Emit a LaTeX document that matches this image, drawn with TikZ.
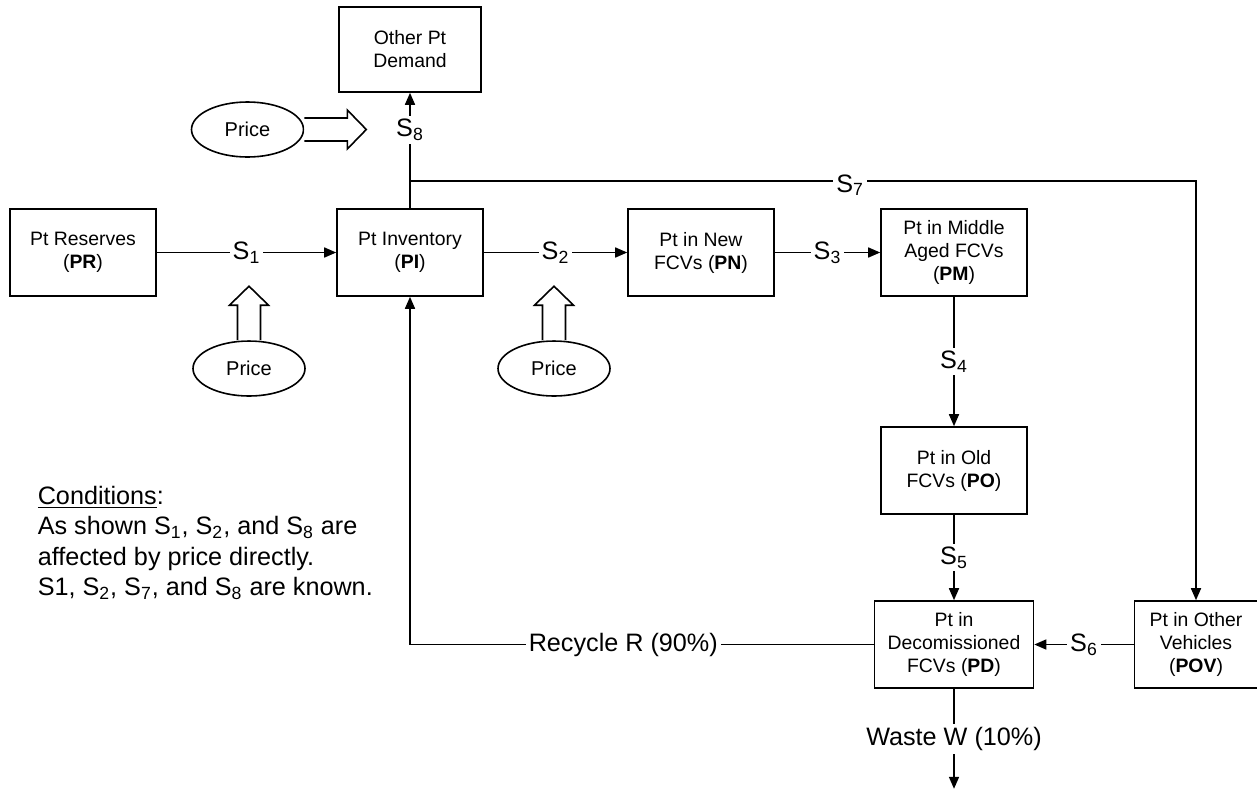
\documentclass[tikz,border=0pt]{standalone}
\usepackage{fontspec}
\setmainfont{Liberation Sans}
\usepackage{tikz}
\usetikzlibrary{shapes.geometric, arrows.meta, positioning, calc}

\begin{document}
\begin{tikzpicture}[
  x=0.5pt, y=-0.5pt, line width=0.8pt,
  >={Triangle[length=6pt, width=5pt]},
  box/.style={rectangle, draw, minimum width=73pt, minimum height=43.5pt, align=center, inner sep=1pt, font=\fontsize{9.7}{11.5}\selectfont},
  lbl/.style={fill=white, inner sep=1.5pt, font=\fontsize{12.6}{15.3}\selectfont},
  price/.style={ellipse, draw, minimum width=56pt, minimum height=27.5pt, inner sep=0pt, font=\fontsize{10}{12}\selectfont},
  fatarrow/.pic={\draw[fill=white] (0,-5.75pt) -- ({#1pt-9.5pt},-5.75pt) -- ({#1pt-9.5pt},-9.75pt) -- (#1pt,0) -- ({#1pt-9.5pt},9.75pt) -- ({#1pt-9.5pt},5.75pt) -- (0,5.75pt);}
]
  \useasboundingbox (0,0) rectangle (1257,788);

  % stocks
  \node[box] (PR) at (83,252.5) {Pt Reserves\\(\textbf{PR})};
  \node[box, right=89.7pt of PR] (PI) {Pt Inventory\\(\textbf{PI})};
  \node[box, right=71.7pt of PI] (PN) {Pt in New\\FCVs (\textbf{PN})};
  \node[box, right=52.7pt of PN] (PM) {Pt in Middle\\Aged FCVs\\(\textbf{PM})};
  \node[box, below=64.7pt of PM] (PO) {Pt in Old\\FCVs (\textbf{PO})};
  \node[box, below=42.7pt of PO, minimum width=79.5pt] (PD) {Pt in\\Decomissioned\\FCVs (\textbf{PD})};
  \node[box, right=49.7pt of PD, minimum width=61.5pt] (POV) {Pt in Other\\Vehicles\\(\textbf{POV})};
  \node[box, above=57.7pt of PI, minimum width=71pt, minimum height=42.5pt] (OD) {Other Pt\\Demand};

  % price drivers
  \node[price] (P8) at (247.5,129.5) {Price};
  \node[price] (P1) at (249,368.5) {Price};
  \node[price] (P2) at (554,368.5) {Price};
  \pic at (P8.east) {fatarrow=31};
  \pic[rotate=90] at (P1.north) {fatarrow=27};
  \pic[rotate=90] at (P2.north) {fatarrow=27};

  % flows
  \coordinate[above=13.5pt of PI.north] (br);
  \coordinate[below=50pt of PD.south] (wend);
  \draw[->] (PR) -- node[lbl]{S\textsubscript{1}} (PI);
  \draw[->] (PI) -- node[lbl]{S\textsubscript{2}} (PN);
  \draw[->] (PN) -- node[lbl]{S\textsubscript{3}} (PM);
  \draw[->] (PM) -- node[lbl]{S\textsubscript{4}} (PO);
  \draw[->] (PO) -- node[lbl]{S\textsubscript{5}} (PD);
  \draw[->] (POV) -- node[lbl]{S\textsubscript{6}} (PD);
  \draw[->] (br) -| node[lbl, pos=0.28, yshift=-2pt]{S\textsubscript{7}} (POV.north);
  \draw[->] (PI.north) -- node[lbl, pos=0.68]{S\textsubscript{8}} (OD.south);
  \draw[->] (PD.west) -| node[lbl, pos=0.27]{Recycle R (90\%)} (PI.south);
  \draw[->] (PD.south) -- node[lbl]{Waste W (10\%)} (wend);

  \node[lbl, fill=none, inner sep=0pt, anchor=north west, align=left] (cond) at (37,485)
    {\underline{Conditions}:\\
     As shown S\textsubscript{1}, S\textsubscript{2}, and S\textsubscript{8} are\\
     affected by price directly.\\
     S1, S\textsubscript{2}, S\textsubscript{7}, and S\textsubscript{8} are known.};
\end{tikzpicture}
\end{document}
